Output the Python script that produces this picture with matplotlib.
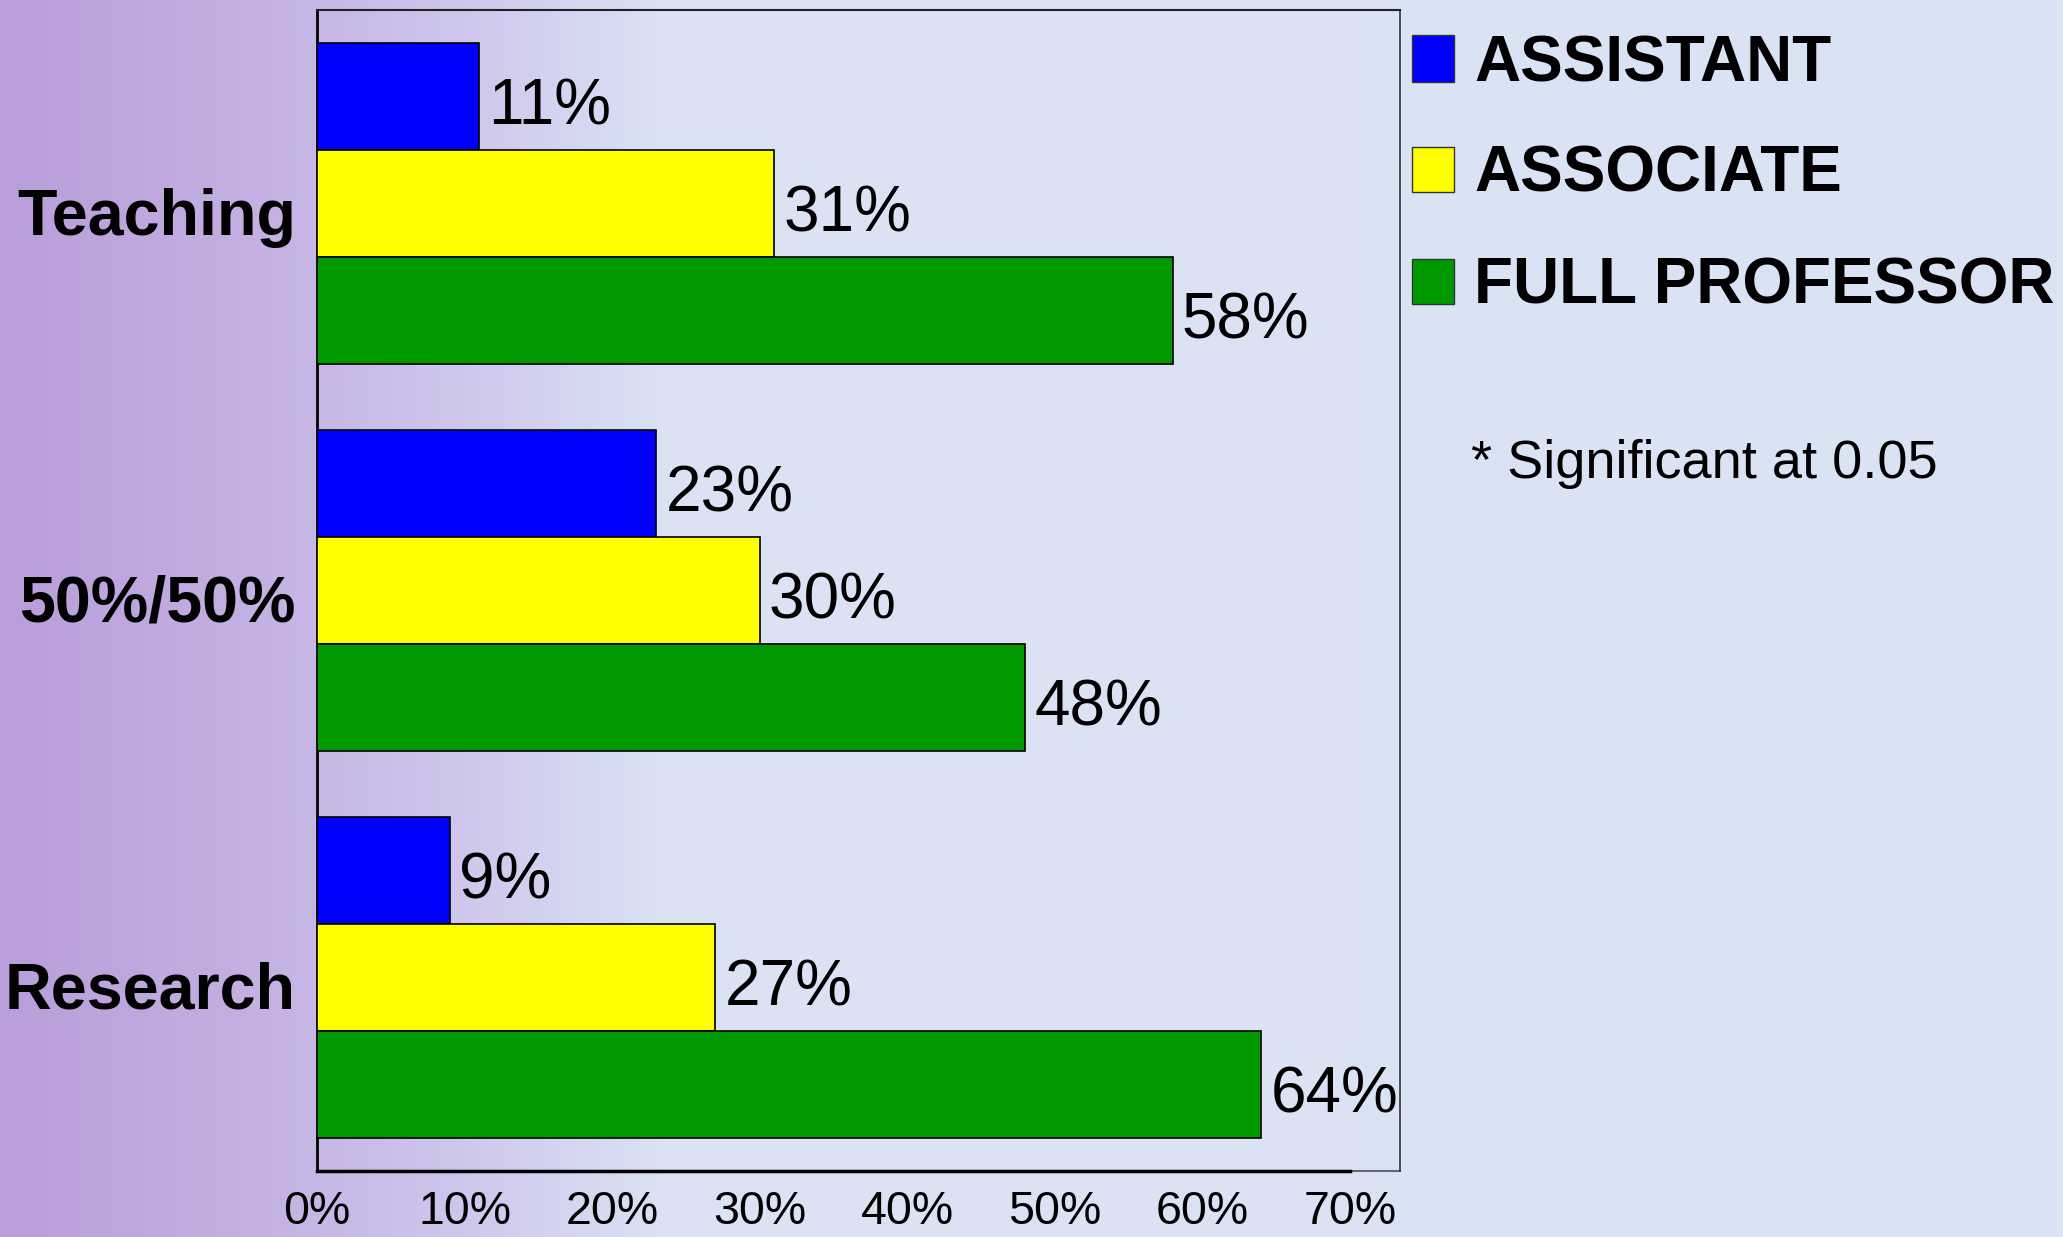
import numpy as np
import matplotlib
matplotlib.use("Agg")
import matplotlib.pyplot as plt
from matplotlib.patches import Rectangle
from matplotlib.colors import LinearSegmentedColormap

categories = ["Teaching", "50%/50%", "Research"]
series_names = ["ASSISTANT", "ASSOCIATE", "FULL PROFESSOR"]
assistant = [11, 23, 9]
associate = [31, 30, 27]
full_prof = [58, 48, 64]
tick_values = [0, 10, 20, 30, 40, 50, 60, 70]
tick_labels = ["0%", "10%", "20%", "30%", "40%", "50%", "60%", "70%"]
note = "* Significant at 0.05"

colors = ["#0000ff", "#ffff00", "#009900"]
W, H = 2063, 1237
fig = plt.figure(figsize=(W / 100, H / 100), dpi=100)
plt.rcParams['font.family'] = ['Liberation Sans', 'DejaVu Sans']

# background gradient
bg = fig.add_axes([0, 0, 1, 1], zorder=-10)
cmap = LinearSegmentedColormap.from_list("bg", [
    (0.0, (184/255, 158/255, 218/255)),
    (0.12, (196/255, 176/255, 226/255)),
    (0.22, (206/255, 198/255, 236/255)),
    (0.32, (218/255, 226/255, 244/255)),
    (1.0, (219/255, 228/255, 245/255)),
])
grad = np.linspace(0, 1, 512).reshape(1, -1)
bg.imshow(grad, aspect="auto", cmap=cmap, extent=[0, 1, 0, 1])
bg.set_axis_off()

left = 317 / W
right = 1400 / W
bottom = 1 - 1171 / H
top = 1 - 10 / H
ax = fig.add_axes([left, bottom, right - left, top - bottom])
ax.set_facecolor("none")

y = np.arange(len(categories))
h = 107 / 387
series = [assistant, associate, full_prof]
for i, (vals, c) in enumerate(zip(series, colors)):
    pos = y + (i - 1) * h
    ax.barh(pos, vals, height=h, color=c, edgecolor="black", linewidth=1.2, zorder=3)
    for p, v in zip(pos, vals):
        ax.annotate(f"{v}%", xy=(v, p), xytext=(9, -28), textcoords="offset pixels",
                    ha="left", va="baseline", fontsize=46, color="black", zorder=4)

for p, name in zip(y, categories):
    ax.annotate(name, xy=(0, p), xytext=(-21, -31), textcoords="offset pixels",
                ha="right", va="baseline", fontsize=46.5, fontweight="bold",
                color="black", annotation_clip=False)

ax.set_xlim(0, 73.4)
ax.set_ylim(2.5, -0.5)
ax.set_yticks([])
ax.set_xticks(tick_values)
ax.set_xticklabels(tick_labels, fontsize=33.5)
ax.tick_params(axis="x", length=0, pad=14)

ax.spines["left"].set_linewidth(2.0)
ax.spines["left"].set_color("black")
ax.spines["top"].set_linewidth(1.5)
ax.spines["top"].set_color("#222222")
ax.spines["right"].set_linewidth(1.2)
ax.spines["right"].set_color("#333333")
ax.spines["bottom"].set_bounds(0, 70)
ax.spines["bottom"].set_linewidth(2.5)
ax.spines["bottom"].set_color("black")
ax.axhline(2.5, color="#666677", linewidth=1.5, zorder=1, clip_on=False)

# legend
sq_rows = [(35, 82), (147, 192), (259, 304)]
for (t, b), name, c in zip(sq_rows, series_names, colors):
    fig.patches.append(Rectangle((1412 / W, 1 - b / H), 42 / W, (b - t) / H,
                                 transform=fig.transFigure, facecolor=c,
                                 edgecolor="#333333", linewidth=1.0))
    fig.text(1474 / W, 1 - b / H, name, ha="left", va="baseline",
             fontsize=46, fontweight="bold", color="black")

fig.text(1471 / W, 1 - 464 / H, note, ha="left", va="center", fontsize=39, color="black")

fig.savefig("out.png", dpi=100)
